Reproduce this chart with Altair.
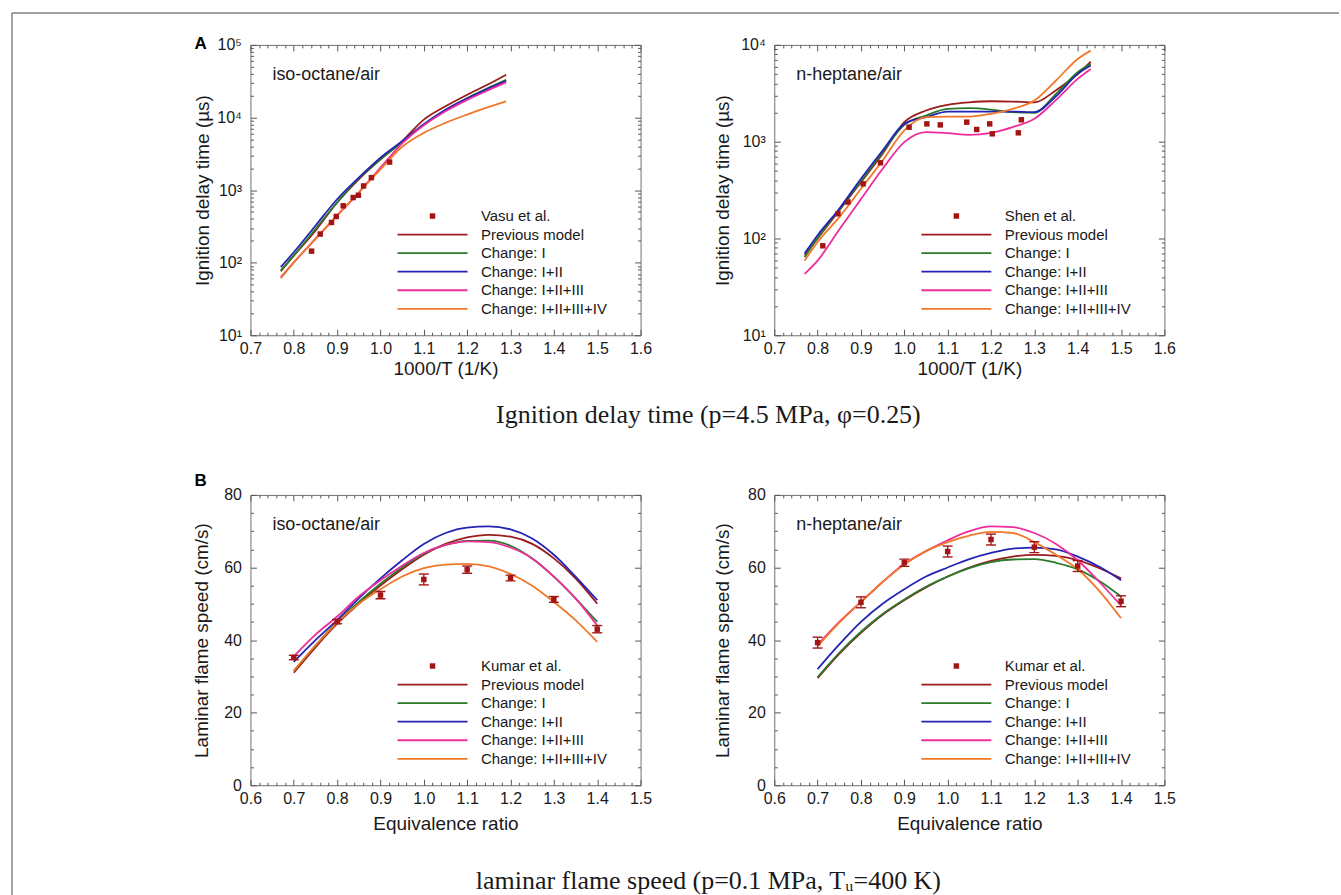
import altair as alt
import pandas as pd

SANS = "Liberation Sans"
SERIF = "Liberation Serif"
W, H = 391, 291

SERIES = ["Previous model", "Change: I", "Change: I+II", "Change: I+II+III", "Change: I+II+III+IV"]
COLORS = ["#9B1C1C", "#2A7A2A", "#2424B4", "#EE2C9B", "#F07828"]
DATA_COLOR = "#A31515"
LINE_PATH = "M-12.8,0H12.8"

# ---------- Panel A (left): iso-octane/air ignition delay ----------
igo_x = [0.77, 0.80, 0.85, 0.90, 0.95, 1.00, 1.05, 1.10, 1.15, 1.20, 1.25, 1.29]
igo_prev = [78, 125, 276, 674, 1409, 2649, 4720, 9360, 14260, 20600, 28900, 38800]
igo_c1 = [76, 125, 291, 674, 1450, 2649, 4550, 8000, 12600, 18560, 25800, 33100]
igo_c2 = [87, 139, 323, 748, 1483, 2793, 4720, 8100, 12800, 18300, 25200, 32000]
igo_c3 = [63, 101, 212, 443, 925, 2036, 4385, 7800, 12200, 17500, 24000, 30500]
igo_c4 = [61, 101, 212, 452, 925, 1932, 3951, 6145, 8430, 10970, 13960, 16700]
igo_exp_x = [0.841, 0.861, 0.887, 0.898, 0.914, 0.937, 0.949, 0.961, 0.979, 1.021]
igo_exp_y = [144, 248, 358, 433, 607, 789, 849, 1140, 1483, 2432]

# ---------- Panel A (right): n-heptane/air ignition delay ----------
ihp_x = [0.77, 0.80, 0.85, 0.90, 0.95, 1.00, 1.05, 1.10, 1.15, 1.20, 1.25, 1.30, 1.35, 1.40, 1.43]
ihp_prev = [67, 100, 195, 382, 750, 1591, 2100, 2400, 2549, 2617, 2600, 2549, 3400, 5000, 6700]
ihp_c1 = [64, 101, 200, 388, 780, 1493, 1863, 2182, 2217, 2148, 2018, 1986, 3120, 5223, 6368]
ihp_c2 = [70, 108, 203, 414, 811, 1528, 1791, 2049, 2049, 2049, 2049, 2018, 2950, 5015, 6114]
ihp_c3 = [43, 59, 124, 255, 525, 989, 1254, 1224, 1178, 1235, 1413, 1722, 2700, 4460, 5650]
ihp_c4 = [59, 92, 166, 326, 640, 1306, 1791, 1819, 1819, 1940, 2182, 2661, 4287, 7162, 8733]
ihp_exp_x = [0.812, 0.847, 0.870, 0.905, 0.945, 1.011, 1.052, 1.083, 1.144, 1.167, 1.197, 1.203, 1.263, 1.270]
ihp_exp_y = [84, 180, 238, 367, 605, 1412, 1528, 1491, 1592, 1337, 1528, 1206, 1235, 1683]

# ---------- Panel B (left): iso-octane/air flame speed ----------
fs_x = [0.70, 0.75, 0.80, 0.85, 0.90, 0.95, 1.00, 1.05, 1.10, 1.15, 1.20, 1.25, 1.30, 1.35, 1.40]
fso_prev = [31.0, 38.0, 44.5, 50.0, 55.0, 59.5, 63.5, 66.5, 68.3, 69.0, 68.5, 66.5, 62.5, 57.0, 50.0]
fso_c1 = [31.5, 38.5, 45.0, 50.5, 55.5, 60.0, 63.8, 66.2, 67.3, 67.4, 66.0, 62.5, 57.5, 51.5, 45.0]
fso_c2 = [34.0, 40.0, 45.5, 51.5, 57.0, 62.0, 66.5, 69.5, 71.0, 71.3, 70.5, 68.0, 63.5, 57.5, 51.0]
fso_c3 = [35.5, 41.5, 46.5, 52.0, 56.5, 60.5, 64.0, 66.2, 67.2, 67.0, 65.5, 62.5, 57.5, 51.5, 44.0]
fso_c4 = [31.5, 38.5, 44.8, 50.0, 54.0, 57.5, 59.8, 60.8, 61.0, 60.3, 58.2, 55.0, 50.5, 45.5, 39.5]
fso_exp_x = [0.7, 0.8, 0.9, 1.0, 1.1, 1.2, 1.3, 1.4]
fso_exp_y = [35.2, 45.1, 52.4, 56.7, 59.4, 57.1, 51.2, 43.0]
fso_exp_err = [0.6, 0.6, 1.0, 1.5, 1.0, 0.8, 0.8, 1.0]

# ---------- Panel B (right): n-heptane/air flame speed ----------
fsh_prev = [29.5, 36.2, 42.0, 47.0, 51.0, 54.5, 57.5, 60.0, 61.8, 63.0, 63.5, 63.2, 62.0, 59.8, 57.0]
fsh_c1 = [29.8, 36.5, 42.3, 47.2, 51.2, 54.7, 57.5, 59.8, 61.5, 62.2, 62.3, 61.3, 59.5, 56.3, 52.0]
fsh_c2 = [32.0, 38.8, 45.0, 50.0, 54.0, 57.5, 60.0, 62.3, 64.0, 65.2, 65.5, 65.0, 63.0, 60.2, 56.5]
fsh_c3 = [38.7, 45.0, 50.5, 56.0, 61.0, 64.5, 67.5, 70.0, 71.3, 71.1, 69.5, 66.5, 62.0, 56.0, 49.5]
fsh_c4 = [38.3, 44.8, 50.5, 56.0, 60.8, 64.5, 67.0, 68.8, 69.8, 69.5, 67.0, 63.5, 59.5, 53.5, 46.0]
fsh_exp_x = [0.7, 0.8, 0.9, 1.0, 1.1, 1.2, 1.3, 1.4]
fsh_exp_y = [39.3, 50.4, 61.3, 64.4, 67.7, 65.6, 60.4, 50.7]
fsh_exp_err = [1.5, 1.5, 1.0, 1.5, 1.5, 1.5, 1.5, 1.5]

# ---------- tick positions ----------
def frange(a, b, step):
    n = int(round((b - a) / step))
    return [round(a + i * step, 4) for i in range(n + 1)]

def drop(vals, majors):
    return [v for v in vals if all(abs(v - m) > 1e-6 for m in majors)]

xA_major = frange(0.7, 1.6, 0.1)
xA_minor = drop(frange(0.7, 1.6, 0.02), xA_major)
xB_major = frange(0.6, 1.5, 0.1)
xB_minor = drop(frange(0.6, 1.5, 0.02), xB_major)
yB_major = [0, 20, 40, 60, 80]
yB_minor = drop(frange(0, 80, 5), yB_major)

def log_minor(top_exp):
    out = []
    for e in range(1, top_exp):
        for m in range(2, 10):
            out.append(m * 10 ** e)
    return out

LOG_EXPR = ("datum.value == 10 ? '10\u00b9' : datum.value == 100 ? '10\u00b2' : "
            "datum.value == 1000 ? '10\u00b3' : datum.value == 10000 ? '10\u2074' : '10\u2075'")

TICK = "#555555"
TXT = "#1a1a1a"


def long_df(x, vals):
    rows = []
    for name, v in zip(SERIES, vals):
        for xi, yi in zip(x, v):
            rows.append({"x": xi, "y": yi, "series": name})
    return pd.DataFrame(rows)


def tick_axis(orient, offset, values, size):
    return alt.Axis(orient=orient, offset=offset, values=values, tickSize=size,
                    tickColor=TICK, tickWidth=1, labels=False, domain=False,
                    grid=False, title=None)


def make_panel(cx, cvals, exp_name, ex, ey, xdom, xmaj, xmin, ydom, ymaj, ymin,
               ylog, xtitle, xtitle_y, ytitle, ytitle_x, fuel, err=None, letter=None,
               letter_y=0, extras=()):
    curves = long_df(cx, cvals)
    exp = pd.DataFrame({"x": ex, "y": ey, "series": exp_name})
    if err is not None:
        exp["lo"] = [a - b for a, b in zip(ey, err)]
        exp["hi"] = [a + b for a, b in zip(ey, err)]
    xscale = alt.Scale(domain=xdom, nice=False, zero=False)
    if ylog:
        yscale = alt.Scale(type="log", domain=ydom, nice=False)
        ylab = dict(labelExpr=LOG_EXPR)
    else:
        yscale = alt.Scale(domain=ydom, nice=False, zero=False)
        ylab = dict(format="d")

    x0 = alt.Axis(orient="bottom", values=xmaj, format=".1f", labelFont=SANS,
                  labelFontSize=16, labelColor=TXT, labelPadding=5, labelFlush=False,
                  labelOverlap=False, ticks=False, tickSize=0, domain=False, grid=False,
                  title=xtitle, titleFont=SANS, titleFontSize=19, titleFontWeight="normal",
                  titleColor=TXT, titleY=xtitle_y, titleBaseline="top")
    y0 = alt.Axis(orient="left", values=ymaj, labelFont=SANS, labelFontSize=16,
                  labelColor=TXT, labelPadding=9, labelOverlap=False, ticks=False,
                  tickSize=0, domain=False, grid=False, title=ytitle, titleFont=SANS,
                  titleFontSize=19, titleFontWeight="normal", titleColor=TXT,
                  titleX=ytitle_x, titleBaseline="middle", **ylab)
    xaxes = [x0, tick_axis("top", -H, xmaj, 6), tick_axis("top", -H, xmin, 3),
             tick_axis("bottom", -H, xmaj, 6), tick_axis("bottom", -H, xmin, 3)]
    yaxes = [y0, tick_axis("right", -W, ymaj, 6), tick_axis("right", -W, ymin, 3),
             tick_axis("left", -W, ymaj, 6), tick_axis("left", -W, ymin, 3)]
    base = pd.DataFrame({"x": [xdom[0]], "y": [ydom[0]]})
    layers = []
    for xa, ya in zip(xaxes, yaxes):
        layers.append(alt.Chart(base).mark_point(opacity=0).encode(
            x=alt.X("x:Q", scale=xscale, axis=xa),
            y=alt.Y("y:Q", scale=yscale, axis=ya)))

    layers.append(alt.Chart(curves).mark_line(strokeWidth=1.8, interpolate="monotone").encode(
        x=alt.X("x:Q", scale=xscale, axis=None),
        y=alt.Y("y:Q", scale=yscale, axis=None),
        color=alt.Color("series:N", scale=alt.Scale(domain=SERIES, range=COLORS), legend=None),
        order=alt.Order("x:Q")))

    if err is not None:
        layers.append(alt.Chart(exp).mark_rule(color=DATA_COLOR, strokeWidth=1.3).encode(
            x=alt.X("x:Q", scale=xscale, axis=None),
            y=alt.Y("lo:Q", scale=yscale, axis=None), y2="hi:Q"))
        for f in ["lo", "hi"]:
            layers.append(alt.Chart(exp).mark_tick(orient="horizontal", size=10, thickness=1.4,
                                                   color=DATA_COLOR, opacity=1).encode(
                x=alt.X("x:Q", scale=xscale, axis=None),
                y=alt.Y(f + ":Q", scale=yscale, axis=None)))

    dom = [exp_name] + SERIES
    leg = alt.Legend(orient="none", legendX=175, legendY=164, title=None, labelFont=SANS,
                     labelFontSize=15, labelColor=TXT, symbolSize=30, symbolStrokeWidth=1.8,
                     labelOffset=41, rowPadding=2.6, padding=0, offset=0)
    layers.append(alt.Chart(exp).mark_point(size=30, opacity=1, strokeWidth=1.8).encode(
        x=alt.X("x:Q", scale=xscale, axis=None),
        y=alt.Y("y:Q", scale=yscale, axis=None),
        fill=alt.Fill("series:N", scale=alt.Scale(domain=dom, range=[DATA_COLOR] + ["transparent"] * 5), legend=leg),
        stroke=alt.Stroke("series:N", scale=alt.Scale(domain=dom, range=["transparent"] + COLORS), legend=leg),
        shape=alt.Shape("series:N", scale=alt.Scale(domain=dom, range=["square"] + [LINE_PATH] * 5), legend=leg)))

    layers.append(alt.Chart(pd.DataFrame({"t": [fuel]})).mark_text(
        align="left", baseline="middle", font=SANS, fontSize=18, color=TXT).encode(
        x=alt.value(22), y=alt.value(30), text="t:N"))
    if letter:
        layers.append(alt.Chart(pd.DataFrame({"t": [letter]})).mark_text(
            align="center", baseline="middle", font=SANS, fontSize=17, fontWeight="bold",
            color="#000").encode(x=alt.value(-50), y=alt.value(letter_y), text="t:N"))
    layers.extend(extras)
    return alt.layer(*layers).properties(width=W, height=H).resolve_axis(x="independent", y="independent")


# figure frame and section captions (placed relative to the first panel)
one = pd.DataFrame({"t": ["Ignition delay time (p=4.5 MPa, \u03c6=0.25)"],
                    "u": ["laminar flame speed (p=0.1 MPa, T\u1d64=400 K)"]})
extras = [
    alt.Chart(one).mark_rule(color="#444444", strokeWidth=1.2).encode(
        x=alt.value(-239), x2=alt.value(1091), y=alt.value(-32)),
    alt.Chart(one).mark_rule(color="#666666", strokeWidth=1.2).encode(
        x=alt.value(-239), y=alt.value(-32), y2=alt.value(852)),
    alt.Chart(one).mark_text(align="center", baseline="middle", font=SERIF, fontSize=26,
                             color=TXT).encode(x=alt.value(459), y=alt.value(371), text="t:N"),
    alt.Chart(one).mark_text(align="center", baseline="middle", font=SERIF, fontSize=26,
                             color=TXT).encode(x=alt.value(459), y=alt.value(838), text="u:N"),
]

A_l = make_panel(igo_x, [igo_prev, igo_c1, igo_c2, igo_c3, igo_c4], "Vasu et al.",
                 igo_exp_x, igo_exp_y, [0.7, 1.6], xA_major, xA_minor, [10, 100000],
                 [10, 100, 1000, 10000, 100000], log_minor(5), True, "1000/T (1/K)", 24,
                 "Ignition delay time (\u00b5s)", -48, "iso-octane/air", letter="A",
                 letter_y=-1, extras=extras)
A_r = make_panel(ihp_x, [ihp_prev, ihp_c1, ihp_c2, ihp_c3, ihp_c4], "Shen et al.",
                 ihp_exp_x, ihp_exp_y, [0.7, 1.6], xA_major, xA_minor, [10, 10000],
                 [10, 100, 1000, 10000], log_minor(4), True, "1000/T (1/K)", 24,
                 "Ignition delay time (\u00b5s)", -52, "n-heptane/air")
B_l = make_panel(fs_x, [fso_prev, fso_c1, fso_c2, fso_c3, fso_c4], "Kumar et al.",
                 fso_exp_x, fso_exp_y, [0.6, 1.5], xB_major, xB_minor, [0, 80],
                 yB_major, yB_minor, False, "Equivalence ratio", 29,
                 "Laminar flame speed (cm/s)", -49, "iso-octane/air", err=fso_exp_err,
                 letter="B", letter_y=-14)
B_r = make_panel(fs_x, [fsh_prev, fsh_c1, fsh_c2, fsh_c3, fsh_c4], "Kumar et al.",
                 fsh_exp_x, fsh_exp_y, [0.6, 1.5], xB_major, xB_minor, [0, 80],
                 yB_major, yB_minor, False, "Equivalence ratio", 29,
                 "Laminar flame speed (cm/s)", -52, "n-heptane/air", err=fsh_exp_err)

chart = alt.concat(A_l, A_r, B_l, B_r, columns=2, spacing={"row": 160, "column": 134},
                   bounds="flush").resolve_scale(
    color="independent", fill="independent", stroke="independent", shape="independent"
).resolve_legend(
    color="independent", fill="independent", stroke="independent", shape="independent"
).properties(
    padding={"left": 10, "top": 10, "right": 0, "bottom": 0}
).configure_view(stroke="#707070", strokeWidth=1)

chart.save("out.html", embed_options={"renderer": "svg", "actions": False})
